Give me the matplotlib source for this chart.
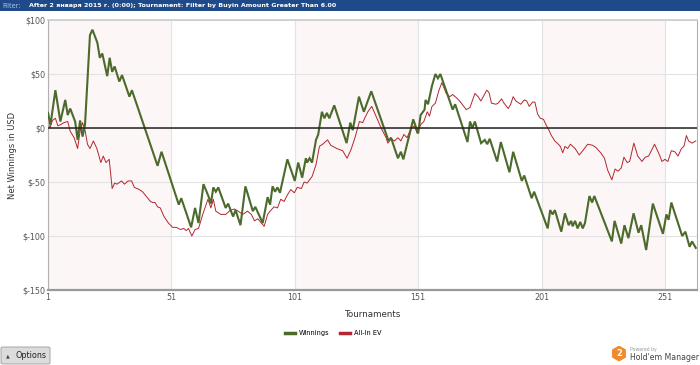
import matplotlib
matplotlib.use("Agg")
import matplotlib.pyplot as plt
from matplotlib.patches import FancyBboxPatch, RegularPolygon, Rectangle
from matplotlib.lines import Line2D

# data (tournament number, net $)
win_t = [1, 2, 4, 6, 8, 9, 10, 12, 13, 14, 15, 16, 18, 19, 21, 22, 23, 25, 26, 27,
         28, 29.9, 31, 34, 35, 45.4, 47, 54, 55, 59, 60.6, 62, 64, 66, 67, 68, 69, 70,
         73, 74, 76, 77, 79, 81, 84, 85, 88, 90, 91, 92, 93, 94, 95, 98, 101, 102.4,
         104, 105.5, 106, 107, 108, 109.6, 110.5, 112, 113, 114, 115, 117, 122, 123.5,
         124.5, 127, 129, 132, 139, 140, 142.8, 144, 145, 149, 151, 152, 153.6, 154,
         155, 156.6, 158, 159, 160, 165, 166, 171, 172, 173, 174, 176.5, 178, 179, 180,
         183, 184.5, 188, 189.5, 193, 194, 197, 198, 203.5, 204.5, 205.5, 206.4, 209,
         210.5, 212, 213, 213.6, 214.6, 215.6, 216.7, 217.7, 218.6, 220.4, 221.5, 222.4,
         229.5, 230.6, 233.3, 234.6, 236.2, 238.3, 240.3, 241.4, 243.4, 246.1, 250.2,
         251.6, 252.5, 253.6, 258, 259.3, 261, 262, 263.5]
win_v = [14, 3, 35, 6, 26, 12, 18, 6, -11, 7, -8, 3, 86, 91, 79, 65, 69, 48, 65, 52,
         57, 43, 49, 29, 35, -35, -22, -71, -65, -92, -74, -88, -52, -63, -70, -55, -59, -55,
         -74, -70, -82, -76, -90, -54, -77, -73, -88, -64, -71, -54, -59, -55, -60, -29, -49, -32,
         -46, -28, -32, -28, -32, -11, -6, 15, 9, 14, 9, 21, -14, 5,
         -2, 29, 15, 34, -12, -9, -28, -22, -29, 8, -5, 12, 17, 26,
         22, 39, 50, 46, 50, 17, 22, -13, 6, 0, 6, -14, -11, -15, -10,
         -31, -13, -41, -22, -49, -44, -65, -59, -93, -76, -80, -76, -96,
         -79, -90, -86, -91, -86, -93, -87, -93, -88, -63, -69, -63,
         -105, -86, -107, -90, -102, -79, -97, -90, -113, -70, -98,
         -80, -85, -69, -100, -96, -110, -105, -111]

ev_t = [1, 1.8, 2.8, 4, 5, 6, 7.5, 9, 10, 11.6, 13, 14, 15, 16, 17, 18, 19.4, 20.8,
        22.4, 23.4, 24.5, 25.8, 27, 28, 29, 30.8, 32, 33.5, 34.9, 36, 38, 39.3, 40.7,
        42.5, 43.4, 44.4, 45.4, 46.5, 48, 49.8, 51.5, 53, 54.7, 56, 57, 57.9, 59.3,
        60.6, 62, 63.7, 65.8, 67, 68, 69, 71, 73, 75, 76.6, 78, 80, 81.8, 83.4, 84.7,
        86, 87.5, 88.6, 90, 91, 92.6, 94, 95.3, 96.7, 98, 99.4, 100.8, 102, 103.7, 104.8,
        106, 108, 109.6, 111, 112.3, 114.3, 115.6, 118, 120.4, 122.2, 123.8, 125.4,
        127.2, 128.5, 130.6, 132.2, 136, 138, 138.7, 140, 141.4, 142.8, 144, 145.2,
        146.5, 148.2, 149.5, 150.6, 152, 153.3, 154.7, 155.6, 156.6, 158, 159.3, 160.6,
        162.4, 163.8, 165, 166.5, 167.8, 168.8, 170.5, 172, 174, 175.3, 176.4, 177.4,
        178.8, 179.7, 180.7, 182.5, 183.4, 184.8, 185.8, 187.5, 188.5, 189.5, 190.6,
        192.6, 194, 195, 196, 197.4, 198.3, 199.4, 200.5, 201.8, 202.8, 204, 205, 206.4,
        207.8, 208.6, 209.6, 210.5, 211.6, 212.7, 214.6, 216.3, 217.7, 219.7, 221.7,
        223, 225, 226.5, 227.8, 229.5, 230.8, 232, 233.3, 234.4, 235.7, 236.7, 238.4,
        240, 241.7, 243, 244.4, 246.8, 248.8, 249.8, 251, 252.2, 253.6, 255, 256.3,
        257.7, 258.7, 259.7, 260.6, 262, 263.5]
ev_v = [5, 0, 7, 9, 2, 3, 5, 6, -3, -9, -19, -3, 5, -2, -15, -19, -12, -19,
        -32, -26, -32, -29, -56, -51, -52, -49, -52, -49, -49, -55, -57, -59, -63,
        -68, -69, -69, -73, -74, -82, -88, -92, -92, -94, -93, -95, -93, -100,
        -94, -93, -80, -66, -74, -66, -77, -80, -80, -76, -75, -77, -80, -77, -80, -86,
        -84, -88, -91, -80, -77, -73, -74, -66, -68, -62, -57, -60, -55, -56, -50,
        -51, -45, -34, -17, -15, -11, -16, -19, -21, -28, -20, -9,
        6, 5, 15, 20, 0, -9, -14, -10, -12, -9, -12, -6,
        -9, 0, 2, -5, 3, 6, 15, 11, 20, 23, 34, 42,
        32, 29, 31, 28, 25, 22, 17, 19, 32, 29, 25, 29,
        35, 33, 23, 22, 23, 27, 23, 18, 22, 29, 25,
        22, 26, 25, 20, 24, 24, 13, 9, 8, 3, -2, -7, -12,
        -15, -17, -23, -17, -19, -15, -19, -25, -21, -15, -16,
        -18, -23, -28, -39, -48, -38, -40, -37, -27, -32, -31, -14,
        -26, -31, -27, -26, -15, -25, -31, -29, -31, -21, -22, -26,
        -19, -17, -7, -12, -14, -12]

x_ticks = [1, 51, 101, 151, 201, 251]
y_ticks = [100, 50, 0, -50, -100, -150]
y_labels = ["$100", "$50", "$0", "$-50", "$-100", "$-150"]

title_text = "After 2 января 2015 г. (0:00); Tournament: Filter by Buyin Amount Greater Than 6.00"

green = "#4b6a2b"
red = "#b3262f"
grey_txt = "#555555"

fig = plt.figure(figsize=(7, 3.65), dpi=100)
fig.patch.set_facecolor("white")

# blue filter bar on top
fig.patches.append(Rectangle((0, 1 - 11 / 365), 1, 11 / 365, transform=fig.transFigure,
                             facecolor="#1f4a8a", edgecolor="none"))
fig.text(0.003, 1 - 5.5 / 365, "Filter:", color="#a9c6ec", fontsize=4.7, va="center")
fig.text(29 / 700, 1 - 5.5 / 365, title_text, color="white", fontsize=4.6,
         fontweight="bold", va="center")

ax = fig.add_axes([48 / 700, 1 - 290 / 365, 649 / 700, 270 / 365])

# alternating bands
for i, x0 in enumerate(x_ticks):
    if i % 2 == 0:
        ax.axvspan(x0, x0 + 50, color="#fcf6f6", zorder=0, lw=0)

ax.plot(win_t, win_v, color=green, lw=1.5, zorder=3, solid_joinstyle="miter")
ax.plot(ev_t, ev_v, color=red, lw=0.7, zorder=2)
ax.axhline(0, color="#222222", lw=1.1, zorder=4)

ax.set_xlim(1, 264)
ax.set_ylim(-150, 100)
ax.set_xticks(x_ticks)
ax.set_yticks(y_ticks)
ax.set_yticklabels(y_labels)
ax.grid(True, color="#e3e3e3", lw=0.8, zorder=1)
ax.set_axisbelow(True)
ax.tick_params(length=0, labelsize=5.8, labelcolor=grey_txt, pad=2)
for s in ["left", "right"]:
    ax.spines[s].set_color("#b0b0b0")
    ax.spines[s].set_linewidth(0.8)
ax.spines["top"].set_color("#cccccc")
ax.spines["top"].set_linewidth(1.2)
ax.spines["bottom"].set_color("#999999")
ax.spines["bottom"].set_linewidth(1.6)

ax.set_xlabel("Tournaments", fontsize=6.3, color="#333333", labelpad=6)
ax.set_ylabel("Net Winnings in USD", fontsize=6, color="#333333", labelpad=4)

handles = [Line2D([], [], color=green, lw=2.5), Line2D([], [], color=red, lw=2.5)]
fig.legend(handles, ["Winnings", "All-In EV"], loc="center",
           bbox_to_anchor=(333 / 700, 1 - 333 / 365), ncol=2, frameon=False,
           fontsize=4.8, handlelength=1.5, handletextpad=0.6, columnspacing=1.5)

# options button
btn = FancyBboxPatch((1 / 700, 1 - 364 / 365), 49 / 700, 17 / 365,
                     boxstyle="round,pad=0,rounding_size=0.003",
                     transform=fig.transFigure, facecolor="#dcdcdc",
                     edgecolor="#9a9a9a", lw=0.6)
fig.patches.append(btn)
fig.text(6 / 700, 1 - 355.5 / 365, "▲", fontsize=3.5, color="#444444", va="center")
fig.text(16 / 700, 1 - 355.5 / 365, "Options", fontsize=5.8, color="#222222", va="center")

# logo
lax = fig.add_axes([611 / 700, 1 - 362 / 365, 16 / 700, 17 / 365])
lax.set_xlim(0, 1)
lax.set_ylim(0, 1)
lax.set_aspect("equal")
lax.axis("off")
lax.add_patch(RegularPolygon((0.5, 0.5), 6, radius=0.5, facecolor="#f08a2c", edgecolor="none"))
lax.text(0.5, 0.48, "2", color="white", fontsize=6, fontweight="bold", ha="center", va="center")
fig.text(630 / 700, 1 - 349 / 365, "Powered by", fontsize=3.3, color="#999999", va="center")
fig.text(630 / 700, 1 - 357.5 / 365, "Hold'em Manager", fontsize=5.6, color="#444444", va="center")

fig.savefig("out.png", dpi=100)
